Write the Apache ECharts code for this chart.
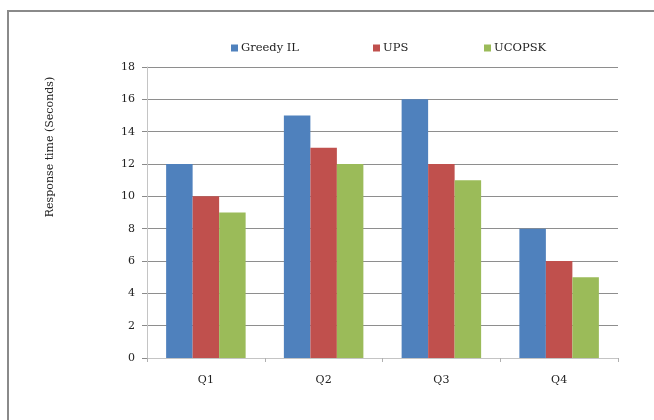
<!DOCTYPE html>
<html>
<head>
<meta charset="utf-8">
<script src="https://cdn.jsdelivr.net/npm/echarts@6/dist/echarts.min.js"></script>
<style>
    html, body { margin: 0; padding: 0; background: #fff; }
    #chart { width: 654px; height: 420px; }
</style>
</head>
<body>
<div id="chart"></div>
<script>
var categories = ['Q1', 'Q2', 'Q3', 'Q4'];
var greedyIL = [12, 15, 16, 8];
var ups = [10, 13, 12, 6];
var ucopsk = [9, 12, 11, 5];
var yTicks = { min: 0, max: 18, interval: 2 };

var serif = '"DejaVu Serif", "Liberation Serif", serif';

var chart = echarts.init(document.getElementById('chart'));

function legendItem(name, left) {
    return {
        data: [name],
        left: left,
        top: 37,
        itemWidth: 7,
        itemHeight: 7,
        icon: 'rect',
        textStyle: { fontFamily: serif, fontSize: 11.5, color: '#222', padding: [0, 0, 0, -2] }
    };
}

var option = {
    animation: false,
    backgroundColor: '#fff',
    graphic: [
        {
            type: 'rect',
            shape: { x: 8, y: 11, width: 700, height: 500 },
            style: { fill: 'none', stroke: '#8a8a8a', lineWidth: 2 },
            silent: true
        },
        {
            type: 'text',
            x: 50,
            y: 147,
            rotation: Math.PI / 2,
            style: {
                text: 'Response time (Seconds)',
                font: '11px ' + serif,
                fill: '#222',
                textAlign: 'center',
                textVerticalAlign: 'middle'
            }
        }
    ],
    legend: [
        legendItem('Greedy IL', 226),
        legendItem('UPS', 368),
        legendItem('UCOPSK', 479)
    ],
    grid: { left: 147, right: 36, top: 67, bottom: 62 },
    xAxis: {
        type: 'category',
        data: categories,
        axisLine: { lineStyle: { color: '#c4c4c4', width: 1 } },
        axisTick: { show: true, length: 4, lineStyle: { color: '#b0b0b0' } },
        axisLabel: { fontFamily: serif, fontSize: 11, color: '#222', margin: 17 }
    },
    yAxis: {
        type: 'value',
        min: yTicks.min,
        max: yTicks.max,
        interval: yTicks.interval,
        axisLine: { show: true, lineStyle: { color: '#c4c4c4', width: 1 } },
        axisTick: { show: true, length: 5, lineStyle: { color: '#8a8a8a' } },
        axisLabel: { fontFamily: serif, fontSize: 11, color: '#222', margin: 12 },
        splitLine: { show: true, lineStyle: { color: '#8e8e8e', width: 1 } }
    },
    series: [
        { name: 'Greedy IL', type: 'bar', data: greedyIL, barWidth: 26.5, barGap: '0%', itemStyle: { color: '#4F81BD' } },
        { name: 'UPS', type: 'bar', data: ups, barWidth: 26.5, barGap: '0%', itemStyle: { color: '#C0504D' } },
        { name: 'UCOPSK', type: 'bar', data: ucopsk, barWidth: 26.5, barGap: '0%', itemStyle: { color: '#9BBB59' } }
    ]
};
chart.setOption(option);
</script>
</body>
</html>
